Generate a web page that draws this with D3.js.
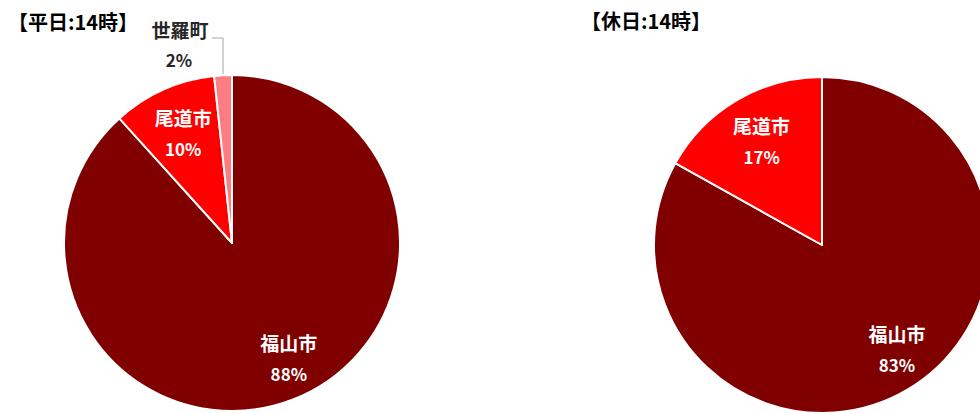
<!DOCTYPE html>
<html><head><meta charset="utf-8">
<script src="https://cdn.jsdelivr.net/npm/d3@7"></script>
<style>body{margin:0;background:#fff;}svg{display:block;font-family:"Noto Sans CJK JP","Noto Sans",sans-serif;}</style>
</head><body>
<svg id="c" width="980" height="413"></svg>
<script>
const titles = ["【平日:14時】", "【休日:14時】"];
const categories = ["福山市", "尾道市", "世羅町"];
const weekdayValues = [88.3, 10.0, 1.7];
const holidayValues = [83.1, 16.9, 0];
const pctLabels = [["88%", "10%", "2%"], ["83%", "17%", ""]];
const colors = ["#800000", "#FF0000", "#FF7C80"];

const svg = d3.select("#c");
const R = 168;
const charts = [
  {values: weekdayValues, cx: 232, cy: 243, tx: 8, ty: 30, pct: pctLabels[0]},
  {values: holidayValues, cx: 822, cy: 245, tx: 581, ty: 29, pct: pctLabels[1]}
];
const pie = d3.pie().sort(null).value(d => d.v);
const arc = d3.arc().innerRadius(0).outerRadius(R);

charts.forEach((c, ci) => {
  svg.append("text").attr("x", c.tx).attr("y", c.ty)
    .attr("font-size", 20).attr("font-weight", "bold").attr("fill", "#000")
    .text(titles[ci]);
  const data = categories.map((k, i) => ({k, v: c.values[i], p: c.pct[i], i})).filter(d => d.v > 0);
  const g = svg.append("g").attr("transform", `translate(${c.cx},${c.cy})`);
  const arcs = pie(data);
  g.selectAll("path").data(arcs).join("path")
    .attr("d", arc).attr("fill", d => colors[d.data.i])
    .attr("stroke", "#fff").attr("stroke-width", 2).attr("stroke-linejoin", "round");
  arcs.forEach(a => {
    const mid = (a.startAngle + a.endAngle) / 2;
    if (a.data.v < 5) {
      const ex = Math.sin(mid) * R, ey = -Math.cos(mid) * R;
      const ly = -R - 37;
      g.append("polyline")
        .attr("points", `${ex},${ey - 1} ${ex},${ly} ${ex - 11},${ly}`)
        .attr("fill", "none").attr("stroke", "#A6A6A6").attr("stroke-width", 1);
      g.append("text").attr("x", ex - 43).attr("y", ly - 7 + 7).attr("text-anchor", "middle")
        .attr("font-size", 19).attr("font-weight", "bold").attr("fill", "#262626").text(a.data.k);
      g.append("text").attr("x", ex - 44).attr("y", ly + 23 + 6).attr("text-anchor", "middle")
        .attr("font-size", 17).attr("font-weight", "bold").attr("fill", "#262626").text(a.data.p);
    } else {
      const big = a.data.v > 50;
      const lr = big ? R * 0.77 : R * 0.71;
      const ang = big ? mid - 5 * Math.PI / 180 : mid;
      const x = Math.sin(ang) * lr, y = -Math.cos(ang) * lr;
      g.append("text").attr("x", x).attr("y", y - 8.5).attr("text-anchor", "middle")
        .attr("font-size", 19).attr("font-weight", "bold").attr("fill", "#fff").text(a.data.k);
      g.append("text").attr("x", x).attr("y", y + 21.5).attr("text-anchor", "middle")
        .attr("font-size", 17).attr("font-weight", "bold").attr("fill", "#fff").text(a.data.p);
    }
  });
});
</script>
</body></html>
